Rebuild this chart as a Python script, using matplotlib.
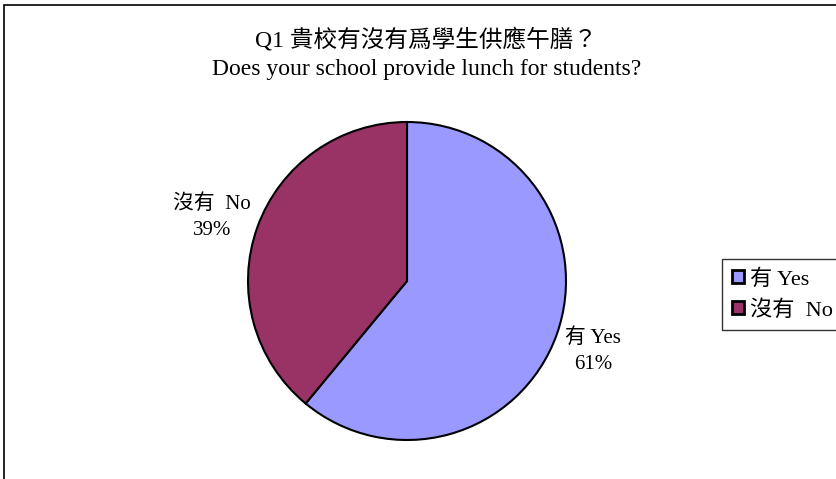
import matplotlib
matplotlib.use("Agg")
import matplotlib.pyplot as plt
from matplotlib.patches import Rectangle, Patch

plt.rcParams['font.family'] = ['Liberation Serif', 'Noto Sans CJK TC', 'DejaVu Sans']

categories = ['有 Yes', '沒有  No']
values = [61, 39]
colors = ['#9999FF', '#993366']
title_lines = ['Q1 貴校有沒有爲學生供應午膳？', 'Does your school provide lunch for students?']

W, H = 837, 479
fig = plt.figure(figsize=(W / 100, H / 100), dpi=100)

# outer frame (right/bottom lie outside the image)
fig.patches.append(Rectangle((4 / W, -0.05), 1.2, 1 - 5 / H + 0.05, transform=fig.transFigure,
                             fill=False, edgecolor='black', linewidth=1.2))

cx, cy, r = 407, 281, 159
ax = fig.add_axes([(cx - r) / W, (H - cy - r) / H, 2 * r / W, 2 * r / H])
wedges, _ = ax.pie(values, colors=colors, startangle=90, counterclock=False,
                   wedgeprops=dict(edgecolor='black', linewidth=1.5), radius=1.0)
ax.set_xlim(-1, 1)
ax.set_ylim(-1, 1)
ax.set_aspect('equal')
ax.axis('off')

# data labels
label_pos = [(593, 351), (212, 217)]
for cat, v, (lx, ly) in zip(categories, values, label_pos):
    fig.text(lx / W, 1 - ly / H, f'{cat}\n{v}%', ha='center', va='center',
             fontsize=15, linespacing=1.5)

fig.text(426 / W, 1 - 40 / H, title_lines[0], ha='center', va='center', fontsize=17)
fig.text(427 / W, 1 - 70 / H, title_lines[1], ha='center', va='center', fontsize=17)

handles = [Patch(facecolor=c, edgecolor='black', linewidth=2.0) for c in colors]
leg = fig.legend(handles, categories, loc='upper left', bbox_to_anchor=(722 / W, 1 - 259 / H),
                 frameon=True, fancybox=False, fontsize=16, handlelength=0.55, handleheight=0.55,
                 handletextpad=0.25, borderpad=0.45, labelspacing=0.45, borderaxespad=0)
leg.get_frame().set_edgecolor('black')
leg.get_frame().set_linewidth(1.0)

fig.savefig('out.png', dpi=100)
